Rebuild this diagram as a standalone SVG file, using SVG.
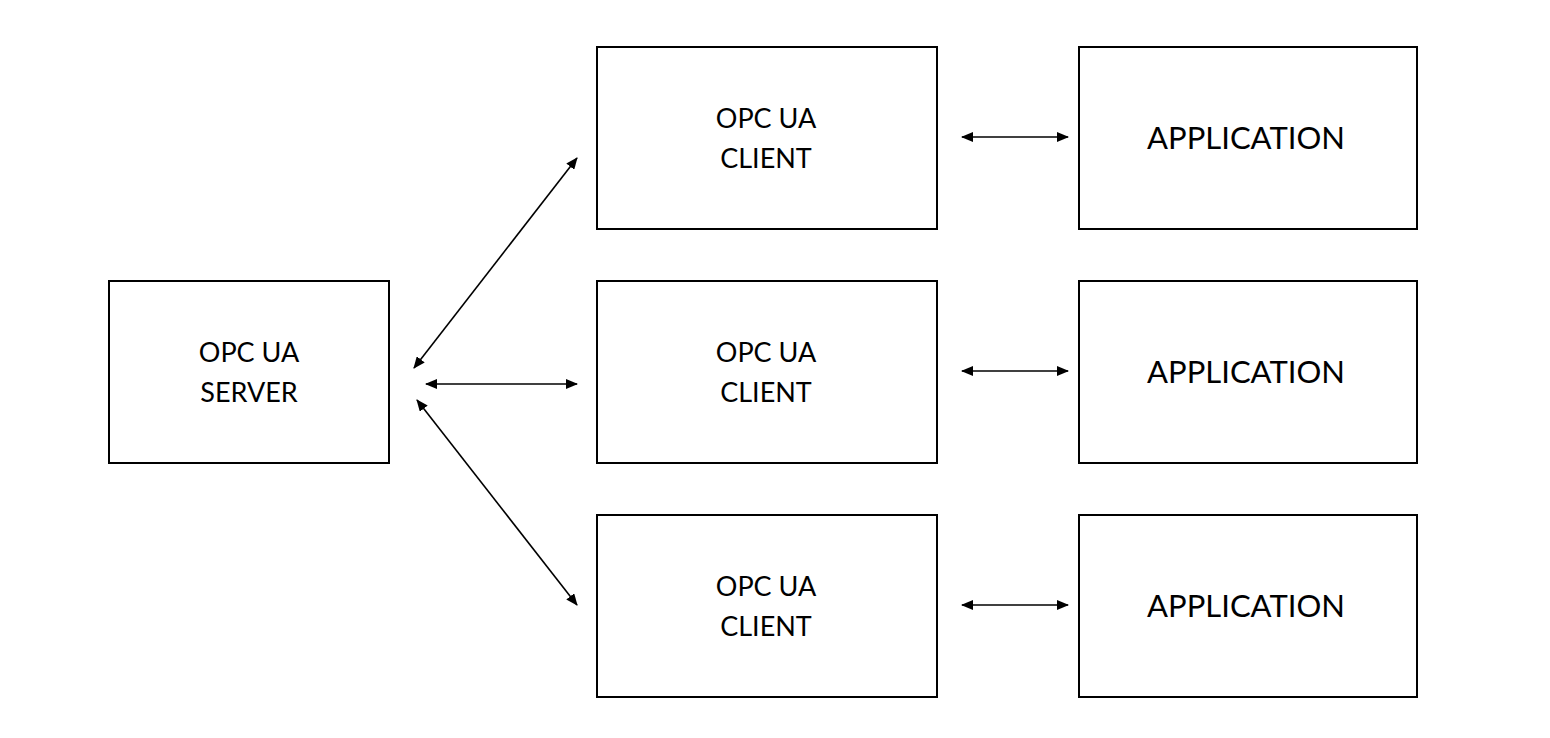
<svg xmlns="http://www.w3.org/2000/svg" width="1550" height="738" viewBox="0 0 1550 738">
<style>
.box{fill:#fff;stroke:#000;stroke-width:2}
.t{font-family:Lato,"Open Sans","Liberation Sans",sans-serif;font-size:27px;fill:#000;text-anchor:middle}
.a{font-family:Lato,"Open Sans","Liberation Sans",sans-serif;font-size:31px;fill:#000;text-anchor:middle}
.c{stroke:#000;stroke-width:1.6;fill:none;marker-start:url(#ah);marker-end:url(#ah)}
</style>
<defs>
<marker id="ah" viewBox="0 0 12 10" refX="11" refY="5" markerWidth="12" markerHeight="10" markerUnits="userSpaceOnUse" orient="auto-start-reverse">
<path d="M0,0 L12,5 L0,10 Z" fill="#000"/>
</marker>
</defs>
<rect width="1550" height="738" fill="#fff"/>
<g id="server">
<rect class="box" x="109" y="281" width="280" height="182"/>
<text class="t" x="249" y="362">OPC UA</text>
<text class="t" x="249" y="402">SERVER</text>
</g>
<g id="client1">
<rect class="box" x="597" y="47" width="340" height="182"/>
<text class="t" x="766" y="128">OPC UA</text>
<text class="t" x="766" y="168">CLIENT</text>
</g>
<g id="client2">
<rect class="box" x="597" y="281" width="340" height="182"/>
<text class="t" x="766" y="362">OPC UA</text>
<text class="t" x="766" y="402">CLIENT</text>
</g>
<g id="client3">
<rect class="box" x="597" y="515" width="340" height="182"/>
<text class="t" x="766" y="596">OPC UA</text>
<text class="t" x="766" y="636">CLIENT</text>
</g>
<g id="app1">
<rect class="box" x="1079" y="47" width="338" height="182"/>
<text class="a" x="1246" y="149">APPLICATION</text>
</g>
<g id="app2">
<rect class="box" x="1079" y="281" width="338" height="182"/>
<text class="a" x="1246" y="383">APPLICATION</text>
</g>
<g id="app3">
<rect class="box" x="1079" y="515" width="338" height="182"/>
<text class="a" x="1246" y="617">APPLICATION</text>
</g>
<g id="connectors">
<line class="c" x1="414" y1="368" x2="577" y2="158"/>
<line class="c" x1="426" y1="384" x2="577" y2="384"/>
<line class="c" x1="417" y1="400" x2="577" y2="605"/>
<line class="c" x1="962" y1="137" x2="1068" y2="137"/>
<line class="c" x1="962" y1="371" x2="1068" y2="371"/>
<line class="c" x1="962" y1="605" x2="1068" y2="605"/>
</g>
</svg>
